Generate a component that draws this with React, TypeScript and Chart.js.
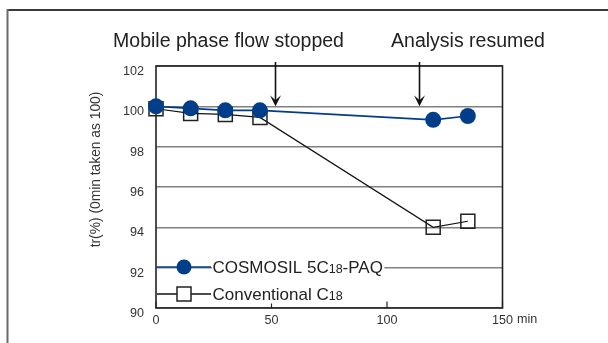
import React, { useEffect, useRef } from "react";
import { Chart, registerables } from "chart.js";

Chart.register(...registerables);

const minutes = [0, 15, 30, 45, 120, 135];
const cosmosilValues = [100.0, 99.9, 99.8, 99.8, 99.33, 99.52];
const conventionalValues = [99.88, 99.65, 99.6, 99.45, 94.0, 94.3];
const yTicks = [90, 92, 94, 96, 98, 100, 102];
const xTicks = [0, 50, 100, 150];
const arrowPositions = [51.5, 113.8];
const headerLabels = ["Mobile phase flow stopped", "Analysis resumed"];
const headerCenters = [228.5, 468];
const yTitle = "tr(%) (0min taken as 100)";
const xUnit = "min";
const legendItems = [
  { pre: "COSMOSIL 5C", sub: "18", post: "-PAQ" },
  { pre: "Conventional C", sub: "18", post: "" },
];

const NAVY = "#003e8a";
const FONT = "'Liberation Sans', Arial, Helvetica, sans-serif";

const decor = {
  id: "decor",
  beforeDraw(chart: any) {
    const ctx = chart.ctx;
    ctx.save();
    ctx.fillStyle = "#ffffff";
    ctx.fillRect(0, 0, chart.width, chart.height);
    ctx.strokeStyle = "#3a3a3a";
    ctx.lineWidth = 2;
    ctx.beginPath();
    ctx.moveTo(7, 10);
    ctx.lineTo(chart.width, 10);
    ctx.stroke();
    ctx.strokeStyle = "#6a6a6a";
    ctx.beginPath();
    ctx.moveTo(7.5, 9);
    ctx.lineTo(7.5, chart.height);
    ctx.stroke();
    ctx.restore();
  },
  beforeDatasetsDraw(chart: any) {
    const ctx = chart.ctx;
    const a = chart.chartArea;
    const xs = chart.scales.x;
    ctx.save();
    ctx.strokeStyle = "#222222";
    ctx.lineWidth = 1.6;
    ctx.strokeRect(a.left, a.top, a.right - a.left, a.bottom - a.top);
    ctx.lineWidth = 1.2;
    xTicks.forEach((v) => {
      const px = xs.getPixelForValue(v);
      ctx.beginPath();
      ctx.moveTo(px, a.bottom);
      ctx.lineTo(px, a.bottom - 6.5);
      ctx.stroke();
    });
    ctx.restore();
  },
  afterDraw(chart: any) {
    const ctx = chart.ctx;
    const a = chart.chartArea;
    const xs = chart.scales.x;
    const ys = chart.scales.y;
    ctx.save();
    ctx.fillStyle = "#222222";
    ctx.font = `19.5px ${FONT}`;
    ctx.textAlign = "center";
    ctx.textBaseline = "alphabetic";
    headerLabels.forEach((t, i) => ctx.fillText(t, headerCenters[i], 46.5));
    ctx.strokeStyle = "#111111";
    ctx.fillStyle = "#111111";
    ctx.lineWidth = 1.6;
    arrowPositions.forEach((v) => {
      const px = Math.round(xs.getPixelForValue(v)) + 0.5;
      const top = ys.getPixelForValue(102.2);
      const tip = ys.getPixelForValue(100.0);
      ctx.beginPath();
      ctx.moveTo(px, top);
      ctx.lineTo(px, tip - 4);
      ctx.stroke();
      ctx.beginPath();
      ctx.moveTo(px, tip);
      ctx.lineTo(px - 5.5, tip - 11);
      ctx.lineTo(px, tip - 6);
      ctx.lineTo(px + 5.5, tip - 11);
      ctx.closePath();
      ctx.fill();
    });
    ctx.save();
    ctx.translate(96.5, 169.5);
    ctx.rotate(-Math.PI / 2);
    ctx.font = `13.8px ${FONT}`;
    ctx.fillStyle = "#333333";
    ctx.textAlign = "center";
    ctx.textBaseline = "middle";
    ctx.fillText(yTitle, 0, 0);
    ctx.restore();
    ctx.font = `12.6px ${FONT}`;
    ctx.fillStyle = "#333333";
    ctx.textAlign = "left";
    ctx.textBaseline = "alphabetic";
    ctx.fillText(xUnit, 517, 323);
    const rows = [267, 294];
    const baselines = [273, 299.5];
    legendItems.forEach((it, i) => {
      const y = rows[i];
      const x0 = a.left + 1;
      const x1 = 211;
      const cx = 184;
      ctx.font = `17px ${FONT}`;
      const w1 = ctx.measureText(it.pre).width;
      const w3 = ctx.measureText(it.post).width;
      ctx.font = `12.5px ${FONT}`;
      const w2 = ctx.measureText(it.sub).width;
      ctx.fillStyle = "#ffffff";
      ctx.fillRect(x1 + 1, baselines[i] - 15, w1 + w2 + w3 + 2, 19);
      ctx.lineWidth = i === 0 ? 1.6 : 1.3;
      ctx.strokeStyle = i === 0 ? NAVY : "#111111";
      ctx.beginPath();
      ctx.moveTo(x0, y);
      ctx.lineTo(x1, y);
      ctx.stroke();
      if (i === 0) {
        ctx.fillStyle = NAVY;
        ctx.beginPath();
        ctx.arc(cx, y, 7.5, 0, Math.PI * 2);
        ctx.fill();
      } else {
        ctx.fillStyle = "#ffffff";
        ctx.fillRect(cx - 7, y - 7, 14, 14);
        ctx.strokeStyle = "#222222";
        ctx.lineWidth = 1.5;
        ctx.strokeRect(cx - 7, y - 7, 14, 14);
      }
      ctx.fillStyle = "#222222";
      ctx.textAlign = "left";
      ctx.textBaseline = "alphabetic";
      let tx = x1 + 1.5;
      ctx.font = `17px ${FONT}`;
      ctx.fillText(it.pre, tx, baselines[i]);
      tx += w1;
      ctx.font = `12.5px ${FONT}`;
      ctx.fillText(it.sub, tx, baselines[i]);
      tx += w2;
      ctx.font = `17px ${FONT}`;
      ctx.fillText(it.post, tx, baselines[i]);
    });
    ctx.restore();
  },
};

export default function App() {
  const ref = useRef<HTMLCanvasElement | null>(null);
  useEffect(() => {
    if (!ref.current) return;
    const chart = new Chart(ref.current, {
      type: "line",
      data: {
        datasets: [
          {
            label: "COSMOSIL 5C18-PAQ",
            data: minutes.map((m, i) => ({ x: m, y: cosmosilValues[i] })),
            borderColor: NAVY,
            backgroundColor: NAVY,
            borderWidth: 1.6,
            pointRadius: 8,
            pointHoverRadius: 8,
            pointBackgroundColor: NAVY,
            pointBorderColor: NAVY,
            pointBorderWidth: 0,
            tension: 0,
            clip: false,
          },
          {
            label: "Conventional C18",
            data: minutes.map((m, i) => ({ x: m, y: conventionalValues[i] })),
            borderColor: "#111111",
            backgroundColor: "transparent",
            borderWidth: 1.2,
            pointStyle: "rect",
            pointRadius: 9.9,
            pointHoverRadius: 9.9,
            pointBackgroundColor: "rgba(0,0,0,0)",
            pointBorderColor: "#222222",
            pointBorderWidth: 1.5,
            tension: 0,
            clip: false,
          },
        ] as any,
      },
      options: {
        responsive: false,
        animation: false,
        devicePixelRatio: 1,
        layout: { padding: { left: 0, right: 105.5, top: 66, bottom: 0 } },
        plugins: { legend: { display: false }, tooltip: { enabled: false }, title: { display: false } },
        events: [],
        scales: {
          x: {
            type: "linear",
            min: 0,
            max: 150,
            afterFit: (s: any) => {
              s.height = 35;
            },
            afterBuildTicks: (s: any) => {
              s.ticks = xTicks.map((v) => ({ value: v }));
            },
            grid: { display: false, drawTicks: false },
            border: { display: false },
            ticks: {
              padding: 5,
              color: "#333333",
              font: { family: FONT, size: 12.6 },
              maxRotation: 0,
            },
          },
          y: {
            type: "linear",
            min: 90,
            max: 102,
            afterFit: (s: any) => {
              s.width = 156;
            },
            afterBuildTicks: (s: any) => {
              s.ticks = yTicks.map((v) => ({ value: v }));
            },
            grid: { color: "#808080", lineWidth: 1.5, drawTicks: false },
            border: { display: false },
            ticks: {
              padding: 12,
              labelOffset: 5.5,
              color: "#333333",
              font: { family: FONT, size: 12.6 },
            },
          },
        },
      },
      plugins: [decor],
    } as any);
    return () => chart.destroy();
  }, []);
  return (
    <div style={{ position: "fixed", left: 0, top: 0, width: 608, height: 343 }}>
      <canvas ref={ref} width={608} height={343} style={{ width: 608, height: 343, display: "block" }} />
    </div>
  );
}
